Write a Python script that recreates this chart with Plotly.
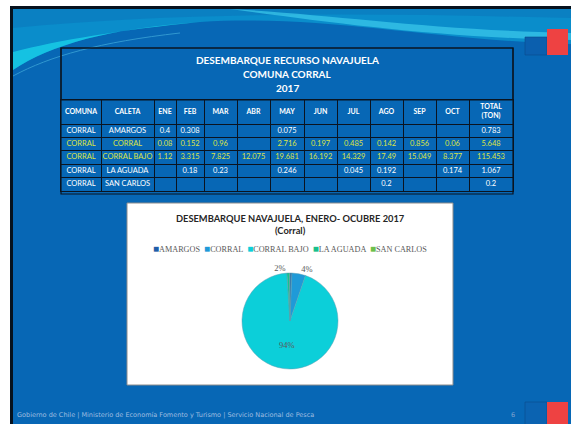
import plotly.graph_objects as go

W, H = 571, 424

# ---------------- data ----------------
table_title = ["DESEMBARQUE RECURSO NAVAJUELA", "COMUNA CORRAL", "2017"]
headers = ["COMUNA", "CALETA", "ENE", "FEB", "MAR", "ABR", "MAY", "JUN",
           "JUL", "AGO", "SEP", "OCT", "TOTAL<br>(TON)"]
comuna = ["CORRAL", "CORRAL", "CORRAL", "CORRAL", "CORRAL"]
caleta = ["AMARGOS", "CORRAL", "CORRAL BAJO", "LA AGUADA", "SAN CARLOS"]
ene = [0.4, 0.08, 1.12, None, None]
feb = [0.308, 0.152, 3.315, 0.18, None]
mar = [None, 0.96, 7.825, 0.23, None]
abr = [None, None, 12.075, None, None]
may = [0.075, 2.716, 19.681, 0.246, None]
jun = [None, 0.197, 16.192, None, None]
jul = [None, 0.485, 14.329, 0.045, None]
ago = [None, 0.142, 17.49, 0.192, 0.2]
sep = [None, 0.856, 15.049, None, None]
octu = [None, 0.06, 8.377, 0.174, None]
total = [0.783, 5.648, 115.453, 1.067, 0.2]

pie_title = "DESEMBARQUE NAVAJUELA, ENERO- OCUBRE 2017"
pie_subtitle = "(Corral)"
pie_colors = ["#1f5ea8", "#1f9ad8", "#0ccfd9", "#17c08c", "#6dbf4b"]
pie_labels = ["", "4%", "94%", "2%", ""]

footer = "Gobierno de Chile | Ministerio de Economía Fomento y Turismo | Servicio Nacional de Pesca"
page_no = "6"

# ---------------- layout helpers (pixels -> paper) ----------------
def X(v):
    return v / W

def Y(v):
    return 1 - v / H

def path(cmds):
    out = []
    for c in cmds:
        op = c[0]
        nums = c[1:]
        pts = []
        for i in range(0, len(nums), 2):
            pts.append(f"{X(nums[i]):.5f},{Y(nums[i+1]):.5f}")
        out.append(op + " " + " ".join(pts))
    return " ".join(out)

def fmt(v):
    return "" if v is None else str(v)

BLUE = "#0767b5"
LINE = "#0b1420"
YELLOW = "#dde445"

# table geometry (layout only)
col_widths = [40, 53, 22, 28, 33, 33, 34, 33, 33, 33, 33, 33, 44]
row_heights = [24, 13.4, 13.4, 13.4, 13.4, 13.4]
col_edges = [0]
for w in col_widths:
    col_edges.append(col_edges[-1] + w)
row_edges = [0]
for h in row_heights:
    row_edges.append(row_edges[-1] + h)
col_centers = [(a + b) / 2 for a, b in zip(col_edges[:-1], col_edges[1:])]
row_centers = [(a + b) / 2 for a, b in zip(row_edges[:-1], row_edges[1:])]

shapes = []
# slide background
shapes.append(dict(type="rect", xref="paper", yref="paper", x0=X(11.5), x1=X(580),
                   y0=Y(7.5), y1=Y(430), fillcolor=BLUE, line=dict(color="#06121e", width=3),
                   layer="below"))
# top wave layers
shapes.append(dict(type="path", xref="paper", yref="paper", layer="below",
                   path=path([("M", 13, 9), ("L", 571, 9), ("L", 571, 44),
                              ("C", 430, 40, 320, 14, 200, 22),
                              ("C", 110, 28, 50, 45, 13, 70), ("Z",)]),
                   fillcolor="#0a8dcb", line=dict(width=0)))
shapes.append(dict(type="path", xref="paper", yref="paper", layer="below",
                   path=path([("M", 13, 9), ("L", 571, 9), ("L", 571, 18),
                              ("C", 400, 14, 200, 10, 13, 28), ("Z",)]),
                   fillcolor="#0a78bd", opacity=0.6, line=dict(width=0)))
shapes.append(dict(type="path", xref="paper", yref="paper", layer="below",
                   path=path([("M", 230, 9), ("C", 330, 14, 430, 30, 571, 33),
                              ("L", 571, 40), ("C", 430, 37, 330, 22, 230, 9), ("Z",)]),
                   fillcolor="#40d0ee", opacity=0.65, line=dict(width=0)))
shapes.append(dict(type="path", xref="paper", yref="paper", layer="below",
                   path=path([("M", 13, 70), ("C", 50, 45, 110, 28, 200, 22),
                              ("C", 120, 30, 60, 40, 13, 52), ("Z",)]),
                   fillcolor="#18cbe6", opacity=0.85, line=dict(width=0)))
shapes.append(dict(type="path", xref="paper", yref="paper", layer="below",
                   path=path([("M", 13, 76), ("C", 50, 56, 100, 42, 180, 33)]),
                   line=dict(color="#4cb8e2", width=1), opacity=0.6))
# flag squares
shapes.append(dict(type="rect", xref="paper", yref="paper", x0=X(525), x1=X(547),
                   y0=Y(37), y1=Y(55), fillcolor="#0b5fae", line=dict(color="#0a4b8c", width=0.6)))
shapes.append(dict(type="rect", xref="paper", yref="paper", x0=X(547), x1=X(568),
                   y0=Y(29), y1=Y(55), fillcolor="#ee4242", line=dict(width=0)))
shapes.append(dict(type="rect", xref="paper", yref="paper", x0=X(525), x1=X(547),
                   y0=Y(402), y1=Y(426), fillcolor="#0b63b1", line=dict(color="#0a4b8c", width=0.6)))
shapes.append(dict(type="rect", xref="paper", yref="paper", x0=X(547), x1=X(568),
                   y0=Y(402), y1=Y(426), fillcolor="#ee4242", line=dict(width=0)))
# table title box and frame
shapes.append(dict(type="rect", xref="paper", yref="paper", x0=X(61), x1=X(513),
                   y0=Y(48), y1=Y(100), fillcolor="rgba(0,0,0,0)", line=dict(color=LINE, width=1.2)))
shapes.append(dict(type="rect", xref="paper", yref="paper", x0=X(61), x1=X(513),
                   y0=Y(48), y1=Y(194), fillcolor="rgba(0,0,0,0)", line=dict(color=LINE, width=1.2)))
# pie box
shapes.append(dict(type="rect", xref="paper", yref="paper", x0=X(127), x1=X(453),
                   y0=Y(203), y1=Y(385), fillcolor="white", line=dict(color="#8c8c8c", width=1),
                   layer="below"))

# ---------------- traces ----------------
traces = []
# table header
traces.append(go.Scatter(
    x=col_centers, y=[row_centers[0]] * len(headers), mode="text",
    text=["<b>" + h + "</b>" for h in headers],
    textfont=dict(family="Lato", size=7, color="white"),
    hoverinfo="skip", showlegend=False, cliponaxis=False))
# table body rows
month_cols = [ene, feb, mar, abr, may, jun, jul, ago, sep, octu, total]
row_colors = ["white", YELLOW, YELLOW, "white", "white"]
for i in range(len(caleta)):
    row_vals = [comuna[i], caleta[i]] + [fmt(c[i]) for c in month_cols]
    traces.append(go.Scatter(
        x=col_centers, y=[row_centers[i + 1]] * len(row_vals), mode="text",
        text=row_vals,
        textfont=dict(family="Lato", size=7.5, color=row_colors[i]),
        hoverinfo="skip", showlegend=False, cliponaxis=False))

pie = go.Pie(
    labels=caleta, values=total, sort=False, direction="clockwise", rotation=0,
    marker=dict(colors=pie_colors, line=dict(color="#5a9fb2", width=0.5)),
    text=pie_labels, textinfo="text",
    textposition=["none", "outside", "inside", "outside", "none"],
    textfont=dict(family="Liberation Serif", size=8.5, color="#595959"),
    insidetextorientation="horizontal",
    domain=dict(x=[X(190), X(390)], y=[Y(369), Y(273)]),
    showlegend=False, hoverinfo="label+value+percent",
)
traces.append(pie)

fig = go.Figure(traces)

annotations = []
for i, line in enumerate(table_title):
    annotations.append(dict(text="<b>" + line + "</b>", xref="paper", yref="paper",
                            x=X(287), y=Y(60 + 14 * i), showarrow=False,
                            font=dict(family="Lato", size=10, color="white"),
                            xanchor="center", yanchor="middle"))
annotations.append(dict(text="<b>" + pie_title + "</b>", xref="paper", yref="paper",
                        x=X(290), y=Y(218), showarrow=False,
                        font=dict(family="Lato", size=9.3, color="#262626"),
                        xanchor="center", yanchor="middle"))
annotations.append(dict(text="<b>" + pie_subtitle + "</b>", xref="paper", yref="paper",
                        x=X(290), y=Y(231), showarrow=False,
                        font=dict(family="Lato", size=9.3, color="#262626"),
                        xanchor="center", yanchor="middle"))
legend_txt = "  ".join(
    f"<span style='color:{c};font-size:10px'>■</span>{n}" for c, n in zip(pie_colors, caleta))
annotations.append(dict(text=legend_txt, xref="paper", yref="paper",
                        x=X(290), y=Y(248), showarrow=False,
                        font=dict(family="Liberation Serif", size=8.2, color="#595959"),
                        xanchor="center", yanchor="middle"))
annotations.append(dict(text=footer, xref="paper", yref="paper",
                        x=X(15), y=Y(415), showarrow=False,
                        font=dict(family="DejaVu Sans", size=6.5, color="#9fbde0"),
                        xanchor="left", yanchor="middle"))
annotations.append(dict(text=page_no, xref="paper", yref="paper",
                        x=X(513), y=Y(415), showarrow=False,
                        font=dict(family="DejaVu Sans", size=6.5, color="#7fa3cf"),
                        xanchor="center", yanchor="middle"))

fig.update_layout(
    width=W, height=H, margin=dict(l=0, r=0, t=0, b=0),
    paper_bgcolor="white", plot_bgcolor="rgba(0,0,0,0)",
    shapes=shapes, annotations=annotations,
    xaxis=dict(domain=[X(61), X(513)], range=[0, col_edges[-1]],
               tickmode="array", tickvals=col_edges, showticklabels=False,
               showgrid=True, gridcolor=LINE, gridwidth=1, zeroline=False,
               showline=True, mirror=True, linecolor=LINE, linewidth=1, ticks="",
               fixedrange=True),
    yaxis=dict(domain=[Y(100 + row_edges[-1]), Y(100)], range=[row_edges[-1], 0],
               tickmode="array", tickvals=row_edges, showticklabels=False,
               showgrid=True, gridcolor=LINE, gridwidth=1, zeroline=False,
               showline=True, mirror=True, linecolor=LINE, linewidth=1, ticks="",
               fixedrange=True),
)

fig.write_html("out.html", config={"displayModeBar": False},
               post_script="document.body.style.margin='0';")
